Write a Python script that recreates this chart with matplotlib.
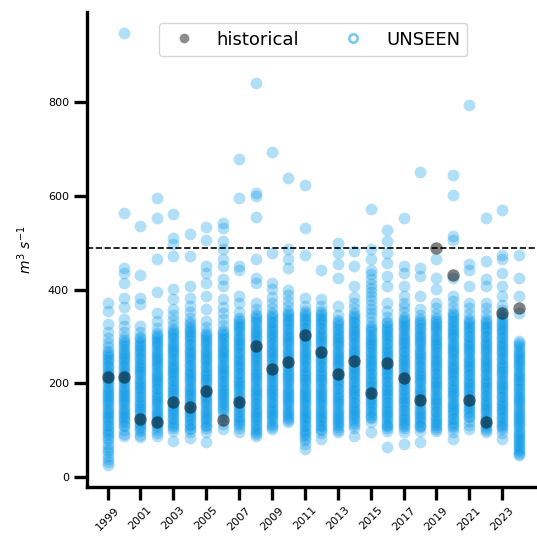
import matplotlib
matplotlib.use("Agg")
import matplotlib.pyplot as plt
from matplotlib.lines import Line2D
import numpy as np

# data (m3/s)
years = [1999, 2000, 2001, 2002, 2003, 2004, 2005, 2006, 2007, 2008, 2009, 2010, 2011,
         2012, 2013, 2014, 2015, 2016, 2017, 2018, 2019, 2020, 2021, 2022, 2023, 2024]

historical = [213, 214, 124, 118, 160, 149, 183, 122, 160, 280, 230, 246, 303,
              266, 221, 247, 179, 243, 211, 164, 489, 431, 165, 118, 351, 361]

u1999 = [372, 355, 326, 309, 296, 287, 278, 270,
         265, 261, 256, 252, 247, 243, 238, 234, 229, 225, 220, 216, 211, 207, 202, 198, 193, 189, 184, 180,
         175, 171, 166, 162, 157, 153, 148, 144, 139, 135, 130, 126, 121, 117, 112, 108, 103, 99, 94, 90,
         84, 78, 71, 64, 58, 53, 45, 39, 32, 25]
u2000 = [947, 564, 447, 436, 415, 383, 362, 337, 322, 310, 300,
         292, 288, 283, 279, 274, 270, 265, 261, 256, 252, 247, 243, 238, 234, 229, 225, 220, 216, 211, 207,
         202, 198, 193, 189, 184, 180, 175, 171, 166, 162, 157, 153, 148, 144, 139, 135, 130, 126, 121, 117,
         112, 108, 100, 92, 87]
u2001 = [537, 431, 383, 369, 323, 310,
         300, 296, 291, 287, 282, 278, 273, 269, 264, 260, 255, 251, 246, 242, 237, 233, 228, 224, 219, 215,
         210, 206, 201, 197, 192, 188, 183, 179, 174, 170, 165, 161, 156, 152, 147, 143, 138, 134, 129, 125,
         120, 116, 111, 107, 102, 98, 90, 85]
u2002 = [596, 554, 465, 394, 351, 333, 318,
         308, 304, 299, 295, 290, 286, 281, 277, 272, 268, 263, 259, 254, 250, 245, 241, 236, 232, 227, 223,
         218, 214, 209, 205, 200, 196, 191, 187, 182, 178, 173, 169, 164, 160, 155, 151, 146, 142, 137, 133,
         128, 124, 119, 115, 110, 106, 101, 95, 88]
u2003 = [561, 511, 497, 472, 401, 380, 358, 345, 335, 325,
         316, 312, 307, 303, 298, 294, 289, 285, 280, 276, 271, 267, 262, 258, 253, 249, 244, 240, 235, 231,
         226, 222, 217, 213, 208, 204, 199, 195, 190, 186, 181, 177, 172, 168, 163, 159, 154, 150, 145, 141,
         136, 132, 127, 123, 118, 114, 109, 105, 99, 77]
u2004 = [519, 472, 408, 383, 365, 352, 340,
         330, 326, 321, 317, 312, 308, 303, 299, 294, 290, 285, 281, 276, 272, 267, 263, 258, 254, 249, 245,
         240, 236, 231, 227, 222, 218, 213, 209, 204, 200, 195, 191, 186, 182, 177, 173, 168, 164, 159, 155,
         150, 146, 141, 137, 132, 128, 123, 119, 114, 110, 105, 102, 96, 83]
u2005 = [534, 507, 451, 436, 415, 387, 358, 333, 320,
         310, 306, 301, 297, 292, 288, 283, 279, 274, 270, 265, 261, 256, 252, 247, 243, 238, 234, 229, 225,
         220, 216, 211, 207, 202, 198, 193, 189, 184, 180, 175, 171, 166, 162, 157, 153, 148, 144, 139, 135,
         130, 126, 121, 117, 112, 108, 104, 96, 74]
u2006 = [543, 532, 504, 486, 465, 451, 422, 408, 380, 362, 350, 338, 325,
         314, 310, 305, 301, 296, 292, 287, 283, 278, 274, 269, 265, 260, 256, 251, 247, 242, 238, 233, 229,
         224, 220, 215, 211, 206, 202, 197, 193, 188, 184, 179, 175, 170, 166, 161, 157, 152, 148, 143,
         136, 128, 113, 102]
u2007 = [678, 596, 451, 443, 387, 372, 352,
         340, 336, 331, 327, 322, 318, 313, 309, 304, 300, 295, 291, 286, 282, 277, 273, 268, 264, 259, 255,
         250, 246, 241, 237, 232, 228, 223, 219, 214, 210, 205, 201, 196, 192, 187, 183, 178, 174, 169, 165,
         160, 156, 151, 147, 142, 138, 133, 129, 124, 120, 115, 112, 104, 96]
u2008 = [841, 607, 600, 556, 465, 426, 415, 372, 358,
         348, 344, 339, 335, 330, 326, 321, 317, 312, 308, 303, 299, 294, 290, 285, 281, 276, 272, 267, 263,
         258, 254, 249, 245, 240, 236, 231, 227, 222, 218, 213, 209, 204, 200, 195, 191, 186, 182, 177, 173,
         168, 164, 159, 155, 150, 146, 141, 137, 132, 128, 123, 119, 114, 110, 105, 101, 96, 92, 88]
u2009 = [693, 479, 415, 401, 385, 372, 360,
         350, 346, 341, 337, 332, 328, 323, 319, 314, 310, 305, 301, 296, 292, 287, 283, 278, 274, 269, 265,
         260, 256, 251, 247, 242, 238, 233, 229, 224, 220, 215, 211, 206, 202, 197, 193, 188, 184, 179, 175,
         170, 166, 161, 157, 152, 148, 143, 139, 134, 130, 125, 121, 116, 112, 106, 103]
u2010 = [639, 486, 465, 447, 400, 388, 376, 365,
         355, 351, 346, 342, 337, 333, 328, 324, 319, 315, 310, 306, 301, 297, 292, 288, 283, 279, 274, 270,
         265, 261, 256, 252, 247, 243, 238, 234, 229, 225, 220, 216, 211, 207, 202, 198, 193, 189, 184, 180,
         175, 171, 166, 162, 157, 153, 148, 144, 139, 135, 130, 126, 121, 117]
u2011 = [623, 532, 475, 383, 365,
         355, 351, 346, 342, 337, 333, 328, 324, 319, 315, 310, 306, 301, 297, 292, 288, 283, 279, 274, 270,
         265, 261, 256, 252, 247, 243, 238, 234, 229, 225, 220, 216, 211, 207, 202, 198, 193, 189, 184, 180,
         175, 171, 166, 162, 157, 153, 148, 144, 139, 135, 130, 126, 121, 117, 112, 108, 103, 99, 94, 90,
         84, 78, 70, 60]
u2012 = [443, 380, 365,
         355, 351, 346, 342, 337, 333, 328, 324, 319, 315, 310, 306, 301, 297, 292, 288, 283, 279, 274, 270,
         265, 261, 256, 252, 247, 243, 238, 234, 229, 225, 220, 216, 211, 207, 202, 198, 193, 189, 184, 180,
         175, 171, 166, 162, 157, 153, 148, 144, 139, 135, 130, 126, 121, 117, 112, 108, 103, 100, 94, 81]
u2013 = [500, 479, 454, 426, 365, 345,
         335, 331, 326, 322, 317, 313, 308, 304, 299, 295, 290, 286, 281, 277, 272, 268, 263, 259, 254, 250,
         245, 241, 236, 232, 227, 223, 218, 214, 209, 205, 200, 196, 191, 187, 182, 178, 173, 169, 164, 160,
         155, 151, 146, 142, 137, 133, 128, 124, 119, 115, 110, 106, 100, 96]
u2014 = [483, 451, 408, 385, 372, 360,
         350, 346, 341, 337, 332, 328, 323, 319, 314, 310, 305, 301, 296, 292, 287, 283, 278, 274, 269, 265,
         260, 256, 251, 247, 242, 238, 233, 229, 224, 220, 215, 211, 206, 202, 197, 193, 188, 184, 179, 175,
         170, 166, 161, 157, 152, 148, 143, 139, 134, 130, 125, 121, 116, 112, 105, 88]
u2015 = [573, 486, 465, 443, 433, 423, 413, 404, 395, 386, 377, 368, 359, 350, 341, 332,
         322, 318, 313, 309, 304, 300, 295, 291, 286, 282, 277, 273, 268, 264, 259, 255, 250, 246, 241, 237,
         232, 228, 223, 219, 214, 210, 205, 201, 196, 192, 187, 183, 178, 174, 169, 165, 160, 156, 151, 147,
         142, 138, 133, 129, 126, 118, 96]
u2016 = [527, 504, 479, 458, 429, 408, 372, 355, 342,
         332, 328, 323, 319, 314, 310, 305, 301, 296, 292, 287, 283, 278, 274, 269, 265, 260, 256, 251, 247,
         242, 238, 233, 229, 224, 220, 215, 211, 206, 202, 197, 193, 188, 184, 179, 175, 170, 166, 161, 157,
         152, 148, 143, 139, 134, 130, 125, 121, 116, 112, 108, 104, 98, 65]
u2017 = [552, 451, 436, 408, 387, 372, 362, 352,
         342, 338, 333, 329, 324, 320, 315, 311, 306, 302, 297, 293, 288, 284, 279, 275, 270, 266, 261, 257,
         252, 248, 243, 239, 234, 230, 225, 221, 216, 212, 207, 203, 198, 194, 189, 185, 180, 176, 171, 167,
         162, 158, 153, 149, 144, 140, 135, 131, 126, 122, 117, 113, 108, 104, 96, 71]
u2018 = [651, 447, 429, 387, 358, 347,
         337, 333, 328, 324, 319, 315, 310, 306, 301, 297, 292, 288, 283, 279, 274, 270, 265, 261, 256, 252,
         247, 243, 238, 234, 229, 225, 220, 216, 211, 207, 202, 198, 193, 189, 184, 180, 175, 171, 166, 162,
         157, 153, 148, 144, 139, 135, 130, 126, 121, 117, 112, 108, 106, 98, 74]
u2019 = [466, 426, 401, 372, 360, 349,
         340, 336, 331, 327, 322, 318, 313, 309, 304, 300, 295, 291, 286, 282, 277, 273, 268, 264, 259, 255,
         250, 246, 241, 237, 232, 228, 223, 219, 214, 210, 205, 201, 196, 192, 187, 183, 178, 174, 169, 165,
         160, 156, 151, 147, 142, 138, 133, 129, 124, 120, 115, 111, 106, 102, 98]
u2020 = [644, 603, 514, 507, 426, 387, 375, 363,
         352, 348, 343, 339, 334, 330, 325, 321, 316, 312, 307, 303, 298, 294, 289, 285, 280, 276, 271, 267,
         262, 258, 253, 249, 244, 240, 235, 231, 226, 222, 217, 213, 208, 204, 199, 195, 190, 186, 181, 177,
         172, 168, 163, 159, 154, 150, 145, 141, 136, 132, 127, 123, 118, 114, 109, 104, 96, 81]
u2021 = [795, 454, 443, 408, 372, 360, 348,
         338, 334, 329, 325, 320, 316, 311, 307, 302, 298, 293, 289, 284, 280, 275, 271, 266, 262, 257, 253,
         248, 244, 239, 235, 230, 226, 221, 217, 212, 208, 203, 199, 194, 190, 185, 181, 176, 172, 167, 163,
         158, 154, 149, 145, 140, 136, 131, 128, 120, 112, 103]
u2022 = [552, 461, 422, 408, 372, 360, 348,
         338, 334, 329, 325, 320, 316, 311, 307, 302, 298, 293, 289, 284, 280, 275, 271, 266, 262, 257, 253,
         248, 244, 239, 235, 230, 226, 221, 217, 212, 208, 203, 199, 194, 190, 185, 181, 176, 172, 167, 163,
         158, 154, 149, 145, 140, 136, 131, 127, 122, 118, 113, 109, 104, 100, 96]
u2023 = [570, 475, 465, 436, 408, 387, 368, 356,
         345, 341, 336, 332, 327, 323, 318, 314, 309, 305, 300, 296, 291, 287, 282, 278, 273, 269, 264, 260,
         255, 251, 246, 242, 237, 233, 228, 224, 219, 215, 210, 206, 201, 197, 192, 188, 183, 179, 174, 170,
         165, 161, 156, 152, 147, 143, 138, 134, 129, 125, 120, 116, 111, 107, 102, 94, 81]
u2024 = [473, 426, 387, 351,
         290, 286, 281, 277, 272, 268, 263, 259, 254, 250, 245, 241, 236, 232, 227, 223, 218, 214, 209, 205,
         200, 196, 191, 187, 182, 178, 173, 169, 164, 160, 155, 151, 146, 142, 137, 133, 128, 124, 119, 115,
         110, 106, 101, 97, 92, 88, 83, 79, 74, 70, 66, 62, 58, 54, 50, 46]

unseen = [u1999, u2000, u2001, u2002, u2003, u2004, u2005, u2006, u2007, u2008, u2009, u2010, u2011,
          u2012, u2013, u2014, u2015, u2016, u2017, u2018, u2019, u2020, u2021, u2022, u2023, u2024]

blue = '#0095e8'

fig = plt.figure(figsize=(5.37, 5.41), dpi=100)
ax = fig.add_axes([0.162, 0.1, 0.842, 0.878])

for yr, vals in zip(years, unseen):
    ax.scatter(np.full(len(vals), yr), vals, s=72, color=blue, alpha=0.3, linewidths=0)
ax.scatter(years, historical, s=80, color='k', alpha=0.5, linewidths=0)

ax.axhline(np.max(historical), color='k', linestyle='--', linewidth=1.2)

ax.set_xticks(years[::2])
ax.set_xticklabels([str(y) for y in years[::2]], rotation=45, fontsize=8)
ax.set_yticks([0, 200, 400, 600, 800])
ax.tick_params(axis='y', labelsize=8)
ax.tick_params(length=9.5, width=2.4)
ax.set_ylabel('$m^3\\ s^{-1}$', fontsize=10, labelpad=10)

for side in ['top', 'right']:
    ax.spines[side].set_visible(False)
for side in ['left', 'bottom']:
    ax.spines[side].set_linewidth(2.4)

handles = [
    Line2D([0], [0], marker='o', linestyle='none', markersize=7,
           markerfacecolor='k', markeredgecolor='none', alpha=0.45),
    Line2D([0], [0], marker='o', linestyle='none', markersize=6, markeredgewidth=1.8,
           markerfacecolor='white', markeredgecolor=(0.0, 0.6, 0.9, 0.55)),
]
ax.legend(handles, ['historical', 'UNSEEN'], loc='upper center', ncol=2, fontsize=13,
          bbox_to_anchor=(0.5, 0.995), columnspacing=2.0)

plt.savefig('out.png', dpi=100)
